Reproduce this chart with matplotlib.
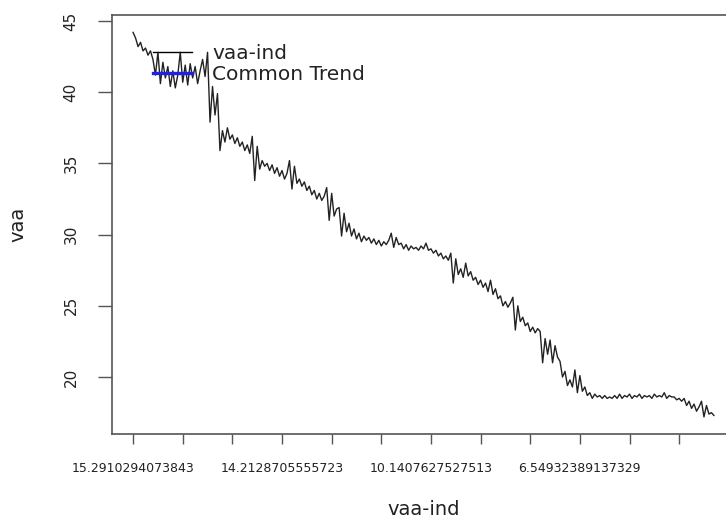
import matplotlib
matplotlib.use("Agg")
import matplotlib.pyplot as plt
from matplotlib.lines import Line2D
import numpy as np

# ---- data ----
vaa = [
    44.2, 43.8, 43.2, 43.5, 42.9, 43.1, 42.6, 42.9, 42.3, 41.2,
    42.8, 40.6, 42.1, 41.0, 41.8, 40.4, 41.5, 40.3, 41.2, 42.8,
    40.7, 41.9, 40.5, 42.0, 41.0, 41.8, 40.6, 41.5, 42.3, 41.1,
    42.8, 37.9, 40.4, 38.4, 39.9, 35.9, 37.3, 36.5, 37.5, 36.7,
    37.0, 36.4, 36.8, 36.2, 36.5, 35.9, 36.3, 35.7, 36.9, 33.8,
    36.2, 34.6, 35.2, 34.8, 35.0, 34.5, 34.9, 34.3, 34.7, 34.1,
    34.5, 33.9, 34.3, 35.2, 33.2, 34.8, 33.6, 33.9, 33.4, 33.7,
    33.1, 33.4, 32.8, 33.1, 32.5, 32.9, 32.4, 32.7, 33.3, 31.0,
    32.9, 31.3, 31.8, 31.9, 29.9, 31.5, 30.2, 30.8, 29.9, 30.4,
    29.7, 30.1, 29.5, 29.9, 29.6, 29.8, 29.4, 29.7, 29.3, 29.6,
    29.2, 29.5, 29.3, 29.6, 30.1, 29.1, 29.8, 29.3, 29.4, 29.0,
    29.3, 28.9, 29.2, 29.0, 29.1, 28.9, 29.2, 29.0, 29.4, 28.9,
    29.0, 28.7, 28.9, 28.5, 28.7, 28.3, 28.5, 28.2, 28.7, 26.6,
    28.3, 27.2, 27.6, 27.0, 28.0, 27.1, 27.4, 26.8, 27.0, 26.5,
    26.8, 26.3, 26.6, 26.0, 26.8, 25.8, 26.2, 25.5, 25.7, 25.0,
    25.3, 24.9, 25.2, 25.6, 23.3, 25.0, 23.9, 24.2, 23.6, 23.8,
    23.2, 23.5, 23.1, 23.4, 23.2, 21.0, 22.7, 21.6, 22.6, 21.0,
    22.2, 21.4, 21.1, 20.0, 20.4, 19.4, 19.8, 19.3, 20.5, 18.9,
    20.1, 19.0, 19.3, 18.7, 18.9, 18.5, 18.8, 18.6, 18.7, 18.5,
    18.7, 18.5, 18.6, 18.5, 18.7, 18.5, 18.8, 18.5, 18.7, 18.6,
    18.8, 18.5, 18.7, 18.6, 18.8, 18.5, 18.7, 18.6, 18.7, 18.5,
    18.8, 18.6, 18.7, 18.6, 18.9, 18.5, 18.7, 18.6, 18.6, 18.4,
    18.5, 18.3, 18.5, 18.0, 18.3, 17.8, 18.1, 17.6, 17.9, 18.3,
    17.2, 18.0, 17.4, 17.5, 17.3,
]
x_tick_positions = list(range(0, 221, 20))
x_tick_labels = ["15.2910294073843", "", "", "14.2128705555723", "", "",
                 "10.1407627527513", "", "", "6.54932389137329", "", ""]
y_ticks = [20, 25, 30, 35, 40, 45]
legend_labels = ["vaa-ind", "Common Trend"]
legend_colors = ["black", "#1f1fe6"]

W, H = 726, 521
fig = plt.figure(figsize=(W / 100, H / 100), dpi=100)
ax = fig.add_axes([112 / W, (H - 434) / H, 623 / W, (434 - 15) / H])

idx = np.arange(len(vaa))
ax.plot(idx, vaa, color="#222222", lw=1.0)

ax.set_xlim(-8.5, 242.5)
ax.set_ylim(16.0, 45.42)

ax.set_xticks(x_tick_positions)
ax.set_xticklabels(x_tick_labels, fontsize=9, color="#222222")
ax.set_yticks(y_ticks)
ax.set_yticklabels([str(v) for v in y_ticks], fontsize=11, color="#222222",
                   rotation=90, va="center")

ax.tick_params(axis="x", direction="out", length=7, width=1, color="#555555", pad=13)
ax.tick_params(axis="y", direction="out", length=10, width=1, color="#555555", pad=14)

for s in ax.spines.values():
    s.set_color("#555555")
    s.set_linewidth(1.2)

ax.set_xlabel("vaa-ind", fontsize=14, color="#222222", labelpad=18)
ax.set_ylabel("vaa", fontsize=14, color="#222222", labelpad=26)

handles = [Line2D([], [], color="black", lw=1.0),
           Line2D([], [], color=legend_colors[1], lw=2.4)]
leg = fig.legend(handles, legend_labels, loc="upper left",
                 bbox_to_anchor=(153 / W, 1 - 44 / H), bbox_transform=fig.transFigure,
                 frameon=False, fontsize=14.5, handlelength=1.95, handletextpad=1.0,
                 borderpad=0, borderaxespad=0, labelspacing=0.12)
for t in leg.get_texts():
    t.set_color("#222222")

fig.savefig("out.png", dpi=100)
